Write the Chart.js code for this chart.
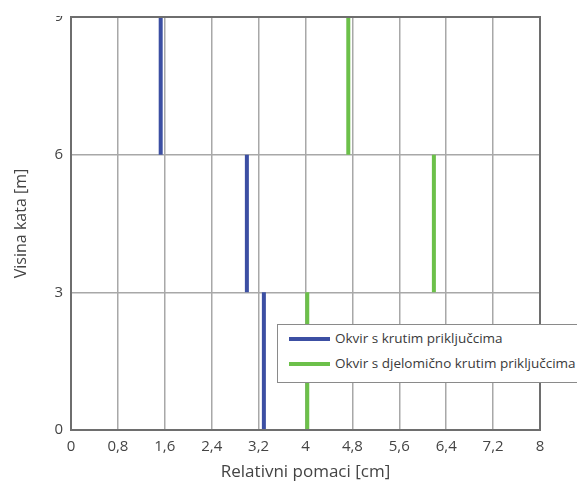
<!DOCTYPE html>
<html>
<head>
<meta charset="utf-8">
<script src="https://cdn.jsdelivr.net/npm/chart.js@4.4.1/dist/chart.umd.min.js"></script>
<style>
  html, body { margin: 0; padding: 0; background: #fff; overflow: hidden; }
  #wrap { position: relative; width: 577px; height: 486px; }
  #topCut { position: absolute; left: 0; top: 0; width: 69px; height: 16px; background: #fff; }
  #legend {
    position: absolute; left: 277px; top: 324px; width: 320px; height: 59px;
    background: #fff; border: 1px solid #8a8a8a; box-sizing: border-box;
    font-family: "Open Sans", sans-serif; font-size: 13.5px; color: #3a3a3a;
  }
  #legend .row { position: absolute; left: 11px; white-space: nowrap; line-height: 18px; }
  #legend .sw { display: inline-block; width: 41px; height: 4px; vertical-align: middle; margin-right: 5px; }
</style>
</head>
<body>
<div id="wrap">
  <canvas id="myChart" width="577" height="486"></canvas>
  <div id="topCut"></div>
  <div id="legend"></div>
</div>
<script>
// storey levels (m) and inter-storey drift per storey (cm)
var storeyLevels = [0, 3, 6, 9];
var rigidDrift = [3.29, 3.0, 1.53];
var semiRigidDrift = [4.03, 6.19, 4.73];
var seriesNames = ['Okvir s krutim priključcima', 'Okvir s djelomično krutim priključcima'];
var seriesColors = ['#3c4fa3', '#6cc04a'];
var xTickLabels = ['0', '0,8', '1,6', '2,4', '3,2', '4', '4,8', '5,6', '6,4', '7,2', '8'];
var yTickLabels = ['0', '3', '6', '9'];

function steps(drift) {
  var pts = [];
  for (var i = 0; i < drift.length; i++) {
    pts.push({x: drift[i], y: storeyLevels[i]});
    pts.push({x: drift[i], y: storeyLevels[i + 1]});
    pts.push({x: null, y: null});
  }
  return pts;
}

var font = "'Open Sans', sans-serif";

// frame round the plot area
var framePlugin = {
  id: 'frame',
  afterDraw: function(chart) {
    var a = chart.chartArea, ctx = chart.ctx;
    ctx.save();
    ctx.strokeStyle = '#6e6e6e';
    ctx.lineWidth = 2;
    ctx.strokeRect(a.left, a.top, a.right - a.left, a.bottom - a.top);
    ctx.restore();
  }
};

var ctx = document.getElementById('myChart').getContext('2d');
var newChart = new Chart(ctx, {
  type: 'scatter',
  data: {
    datasets: [
      {label: seriesNames[0], data: steps(rigidDrift), showLine: true, spanGaps: false,
       borderColor: seriesColors[0], backgroundColor: seriesColors[0], borderWidth: 4, pointRadius: 0},
      {label: seriesNames[1], data: steps(semiRigidDrift), showLine: true, spanGaps: false,
       borderColor: seriesColors[1], backgroundColor: seriesColors[1], borderWidth: 4, pointRadius: 0}
    ]
  },
  options: {
    responsive: false,
    animation: false,
    layout: {padding: {top: 15, right: 37, left: 0, bottom: 0}},
    plugins: {legend: {display: false}, tooltip: {enabled: false}},
    scales: {
      x: {
        type: 'linear', min: 0, max: 8,
        afterBuildTicks: function(scale) {
          scale.ticks = xTickLabels.map(function(t, i) { return {value: i * 0.8}; });
        },
        afterFit: function(scale) { scale.height = 56; },
        grid: {color: '#a8a8a8', lineWidth: 1.5, drawTicks: false},
        border: {color: '#6e6e6e', width: 2},
        ticks: {
          color: '#444', font: {family: font, size: 15}, padding: 8, maxRotation: 0, autoSkip: false,
          callback: function(v, i) { return xTickLabels[i]; }
        },
        title: {display: true, text: 'Relativni pomaci [cm]', color: '#444',
                font: {family: font, size: 17}, padding: {top: 6}}
      },
      y: {
        type: 'linear', min: 0, max: 9,
        afterBuildTicks: function(scale) {
          scale.ticks = yTickLabels.map(function(t) { return {value: Number(t)}; });
        },
        afterFit: function(scale) { scale.width = 71; },
        grid: {color: '#a8a8a8', lineWidth: 1.5, drawTicks: false},
        border: {color: '#6e6e6e', width: 2},
        ticks: {
          color: '#444', font: {family: font, size: 15}, padding: 8, autoSkip: false,
          callback: function(v, i) { return yTickLabels[i]; }
        },
        title: {display: true, text: 'Visina kata [m]', color: '#444',
                font: {family: font, size: 16}, padding: {top: 12, bottom: 4}}
      }
    }
  },
  plugins: [framePlugin]
});

// legend box
var lg = document.getElementById('legend');
seriesNames.forEach(function(name, i) {
  var row = document.createElement('div');
  row.className = 'row';
  row.style.top = (i === 0 ? 4 : 29) + 'px';
  row.innerHTML = '<span class="sw" style="background:' + seriesColors[i] + '"></span>' + name;
  lg.appendChild(row);
});
</script>
</body>
</html>
